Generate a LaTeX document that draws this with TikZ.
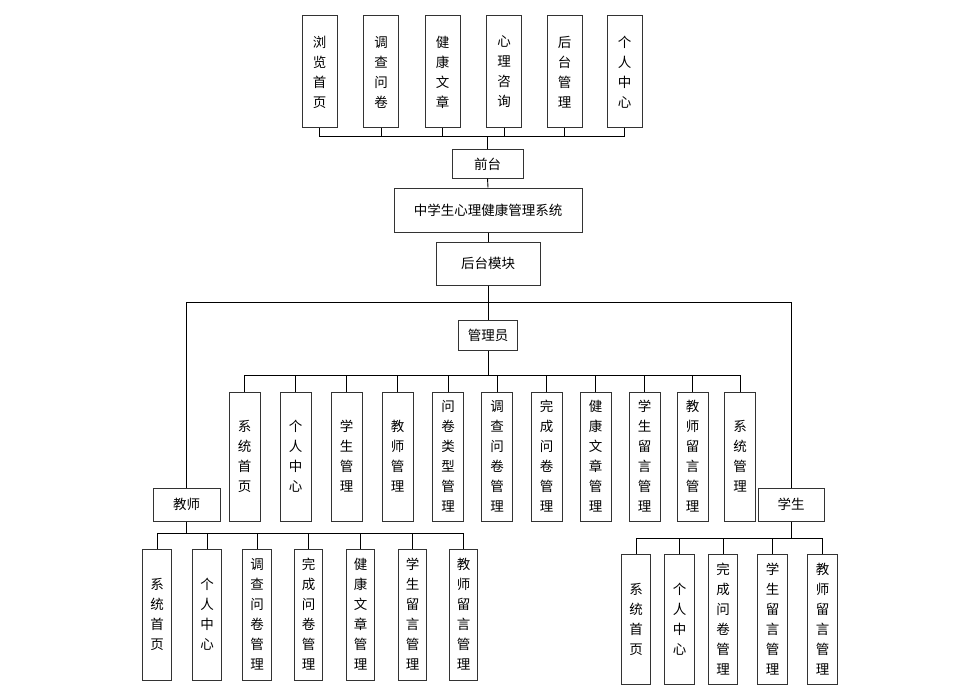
\documentclass[tikz,border=0pt]{standalone}
\usepackage{fontspec}
\newfontfamily\cjk{Noto Sans CJK SC}
\begin{document}
\begin{tikzpicture}[x=1pt,y=-1pt,line cap=butt,line join=miter,font=\cjk\fontsize{13.5}{20}\selectfont]
	\tikzset{box/.style={draw=black!80,line width=1pt,inner sep=0pt,align=center},
		lnk/.style={draw=black,line width=0.9pt}}
	\useasboundingbox (0,0) rectangle (965,695);
	% front end
	\foreach \n/\x/\t in {q1/319.5/{浏\\览\\首\\页},q2/381/{调\\查\\问\\卷},q3/442.5/{健\\康\\文\\章},
		q4/504/{心\\理\\咨\\询},q5/564.5/{后\\台\\管\\理},q6/624.5/{个\\人\\中\\心}}{
		\node[box,minimum width=35pt,minimum height=112pt] (\n) at (\x,72) {\t};}
	\node[box,minimum width=71pt,minimum height=28pt] (qt) at (487.5,164) {前台};
	\node[box,minimum width=188pt,minimum height=44pt] (sys) at (488,210) {中学生心理健康管理系统};
	\node[box,minimum width=104pt,minimum height=43pt] (ht) at (488,263.5) {后台模块};
	\node[box,minimum width=59pt,minimum height=30pt] (gly) at (488,335) {管理员};
	\node[box,minimum width=67pt,minimum height=33pt] (js) at (186.5,504.5) {教师};
	\node[box,minimum width=66pt,minimum height=33pt] (xs) at (791,504.5) {学生};
	% admin
	\foreach \n/\x/\t in {g1/244.5/{系\\统\\首\\页},g2/295.5/{个\\人\\中\\心},g3/346.5/{学\\生\\管\\理},
		g4/397.5/{教\\师\\管\\理},g5/448/{问\\卷\\类\\型\\管\\理},g6/497/{调\\查\\问\\卷\\管\\理},
		g7/546.5/{完\\成\\问\\卷\\管\\理},g8/595.5/{健\\康\\文\\章\\管\\理},g9/644.5/{学\\生\\留\\言\\管\\理},
		g10/692.5/{教\\师\\留\\言\\管\\理},g11/740/{系\\统\\管\\理}}{
		\node[box,minimum width=31pt,minimum height=129pt] (\n) at (\x,456.5) {\t};}
	% teacher
	\foreach \n/\x/\t in {t1/157/{系\\统\\首\\页},t2/207/{个\\人\\中\\心},t3/257/{调\\查\\问\\卷\\管\\理},
		t4/308.5/{完\\成\\问\\卷\\管\\理},t5/360.5/{健\\康\\文\\章\\管\\理},t6/412.5/{学\\生\\留\\言\\管\\理},
		t7/463.5/{教\\师\\留\\言\\管\\理}}{
		\node[box,minimum width=28.5pt,minimum height=131pt] (\n) at (\x,614.5) {\t};}
	% student
	\foreach \n/\x/\t in {s1/636/{系\\统\\首\\页},s2/679.5/{个\\人\\中\\心},s3/723/{完\\成\\问\\卷\\管\\理},
		s4/772.5/{学\\生\\留\\言\\管\\理},s5/822.5/{教\\师\\留\\言\\管\\理}}{
		\node[box,minimum width=29.5pt,minimum height=130pt] (\n) at (\x,619) {\t};}
	% connectors
	\coordinate (qbus) at (487.5,136);
	\coordinate (hbus) at (488,302);
	\coordinate (gbus) at (488,375);
	\coordinate (tbus) at (186.5,533);
	\coordinate (sbus) at (791,538);
	\draw[lnk] (qt.north)--(qbus);
	\foreach \n in {q1,q2,q3,q4,q5,q6}{
		\draw[lnk] (qbus)-|(\n.south);}
	\draw[lnk] (qt.south)--(sys.north);
	\draw[lnk] (sys.south)--(ht.north);
	\draw[lnk] (ht.south)--(gly.north);
	\draw[lnk] (hbus)-|(js.north);
	\draw[lnk] (hbus)-|(xs.north);
	\draw[lnk] (gly.south)--(gbus);
	\foreach \n in {g1,g2,g3,g4,g5,g6,g7,g8,g9,g10,g11}{
		\draw[lnk] (gbus)-|(\n.north);}
	\draw[lnk] (js.south)--(tbus);
	\foreach \n in {t1,t2,t3,t4,t5,t6,t7}{
		\draw[lnk] (tbus)-|(\n.north);}
	\draw[lnk] (xs.south)--(sbus);
	\foreach \n in {s1,s2,s3,s4,s5}{
		\draw[lnk] (sbus)-|(\n.north);}
\end{tikzpicture}
\end{document}
